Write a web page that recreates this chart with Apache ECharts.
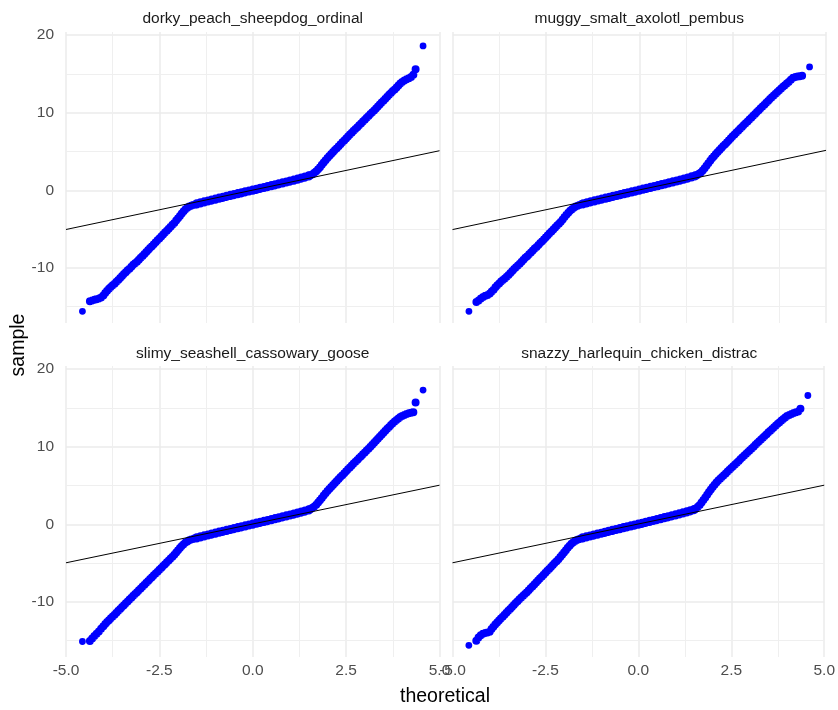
<!DOCTYPE html>
<html>
<head>
<meta charset="utf-8">
<script src="https://cdn.jsdelivr.net/npm/echarts@6/dist/echarts.min.js"></script>
<style>
  html, body { margin: 0; padding: 0; background: #ffffff; }
  #chart { width: 838px; height: 710px; }
</style>
</head>
<body>
<div id="chart"></div>
<script>
// ---------- DATA ----------
const panelNames = [
  'dorky_peach_sheepdog_ordinal',
  'muggy_smalt_axolotl_pembus',
  'slimy_seashell_cassowary_goose',
  'snazzy_harlequin_chicken_distrac'
];

const theoretical = [
  -4.56, -4.36, -4.3, -4.24, -4.18, -4.12, -4.06, -4.0,
  -3.95, -3.9, -3.85, -3.8, -3.75, -3.7, -3.65, -3.6, -3.55, -3.5,
  -3.45, -3.4, -3.35, -3.3, -3.25, -3.2, -3.15, -3.1, -3.05, -3.0,
  -2.95, -2.9, -2.85, -2.8, -2.75, -2.7, -2.65, -2.6, -2.55, -2.5,
  -2.45, -2.4, -2.35, -2.3, -2.25, -2.2, -2.15, -2.1, -2.05, -2.0,
  -1.95, -1.9, -1.85, -1.8, -1.75, -1.7, -1.65, -1.6, -1.55,
  -1.5, -1.4, -1.3, -1.2, -1.1, -1.0, -0.9, -0.8, -0.7, -0.6, -0.5,
  -0.4, -0.3, -0.2, -0.1, 0.0, 0.1, 0.2, 0.3, 0.4, 0.5, 0.6, 0.7,
  0.8, 0.9, 1.0, 1.1, 1.2, 1.3, 1.4, 1.5,
  1.55, 1.6, 1.65, 1.7, 1.75, 1.8, 1.85, 1.9, 1.95, 2.0,
  2.05, 2.1, 2.15, 2.2, 2.25, 2.3, 2.35, 2.4, 2.45, 2.5,
  2.55, 2.6, 2.65, 2.7, 2.75, 2.8, 2.85, 2.9, 2.95, 3.0,
  3.05, 3.1, 3.15, 3.2, 3.25, 3.3, 3.35, 3.4, 3.45, 3.5,
  3.55, 3.6, 3.65, 3.7, 3.75, 3.8, 3.85, 3.9, 3.95,
  4.0, 4.06, 4.12, 4.18, 4.24, 4.3, 4.36, 4.56
];

const sampleDorky = [
  -15.6, -14.3, -14.2, -14.1, -14.05, -13.95, -13.8, -13.55,
  -13.25, -12.95, -12.7, -12.45, -12.25, -12.05, -11.8, -11.55, -11.3, -11.05,
  -10.8, -10.55, -10.3, -10.1, -9.85, -9.6, -9.4, -9.2, -8.95, -8.7,
  -8.45, -8.2, -7.95, -7.7, -7.45, -7.2, -6.95, -6.7, -6.45, -6.2,
  -5.95, -5.7, -5.45, -5.2, -4.95, -4.7, -4.45, -4.2, -3.9, -3.6,
  -3.3, -3.0, -2.7, -2.45, -2.25, -2.1, -2.0, -1.9, -1.82,
  -1.75, -1.62, -1.5, -1.38, -1.26, -1.14, -1.02, -0.9, -0.78, -0.66, -0.55,
  -0.43, -0.32, -0.2, -0.09, 0.02, 0.13, 0.25, 0.36, 0.48, 0.6, 0.71, 0.83,
  0.95, 1.07, 1.19, 1.31, 1.44, 1.57, 1.7, 1.85,
  1.95, 2.08, 2.25, 2.45, 2.7, 2.98, 3.28, 3.58, 3.88, 4.15,
  4.42, 4.68, 4.93, 5.18, 5.43, 5.68, 5.93, 6.18, 6.43, 6.68,
  6.93, 7.18, 7.42, 7.66, 7.9, 8.14, 8.38, 8.62, 8.86, 9.1,
  9.34, 9.58, 9.82, 10.06, 10.3, 10.55, 10.8, 11.05, 11.3, 11.55,
  11.8, 12.05, 12.3, 12.55, 12.8, 13.0, 13.25, 13.5, 13.75,
  13.95, 14.15, 14.3, 14.45, 14.6, 14.9, 15.6, 18.6
];

const sampleMuggy = [
  -15.6, -14.4, -14.2, -13.95, -13.75, -13.6, -13.5, -13.3,
  -13.05, -12.8, -12.5, -12.25, -12.0, -11.75, -11.55, -11.35, -11.15, -10.9,
  -10.65, -10.4, -10.15, -9.9, -9.7, -9.45, -9.2, -8.95, -8.7, -8.5,
  -8.25, -8.0, -7.75, -7.5, -7.3, -7.05, -6.8, -6.55, -6.3, -6.05,
  -5.8, -5.55, -5.3, -5.05, -4.8, -4.55, -4.3, -4.05, -3.75, -3.45,
  -3.15, -2.9, -2.65, -2.45, -2.25, -2.1, -1.98, -1.88, -1.8,
  -1.74, -1.61, -1.49, -1.37, -1.25, -1.13, -1.01, -0.9, -0.78, -0.67, -0.55,
  -0.44, -0.32, -0.21, -0.1, 0.02, 0.14, 0.25, 0.37, 0.49, 0.6, 0.72, 0.84,
  0.96, 1.08, 1.2, 1.32, 1.45, 1.58, 1.72, 1.86,
  1.98, 2.12, 2.3, 2.55, 2.85, 3.18, 3.5, 3.82, 4.12, 4.4,
  4.68, 4.94, 5.2, 5.45, 5.7, 5.95, 6.2, 6.45, 6.7, 6.95,
  7.2, 7.44, 7.68, 7.92, 8.16, 8.4, 8.64, 8.88, 9.12, 9.36,
  9.6, 9.84, 10.08, 10.32, 10.56, 10.8, 11.04, 11.28, 11.52, 11.76,
  12.0, 12.22, 12.45, 12.68, 12.9, 13.12, 13.35, 13.55, 13.75,
  13.95, 14.25, 14.5, 14.6, 14.65, 14.7, 14.75, 15.9
];

const sampleSlimy = [
  -15.1, -15.05, -14.7, -14.4, -14.1, -13.8, -13.45, -13.15,
  -12.85, -12.6, -12.35, -12.1, -11.88, -11.65, -11.4, -11.15, -10.9, -10.65,
  -10.42, -10.18, -9.94, -9.7, -9.46, -9.22, -8.98, -8.74, -8.5, -8.26,
  -8.02, -7.78, -7.54, -7.3, -7.06, -6.82, -6.58, -6.34, -6.1, -5.86,
  -5.62, -5.38, -5.14, -4.9, -4.66, -4.42, -4.18, -3.92, -3.64, -3.35,
  -3.06, -2.8, -2.56, -2.36, -2.2, -2.07, -1.97, -1.88, -1.81,
  -1.75, -1.62, -1.5, -1.38, -1.26, -1.14, -1.02, -0.91, -0.79, -0.67, -0.55,
  -0.44, -0.32, -0.21, -0.09, 0.02, 0.14, 0.25, 0.37, 0.48, 0.6, 0.72, 0.84,
  0.96, 1.08, 1.2, 1.32, 1.45, 1.58, 1.71, 1.85,
  1.97, 2.12, 2.3, 2.52, 2.8, 3.1, 3.4, 3.7, 4.0, 4.28,
  4.55, 4.82, 5.08, 5.33, 5.58, 5.83, 6.08, 6.33, 6.58, 6.83,
  7.08, 7.33, 7.58, 7.82, 8.06, 8.3, 8.54, 8.78, 9.02, 9.26,
  9.5, 9.75, 10.0, 10.25, 10.5, 10.76, 11.02, 11.28, 11.54, 11.8,
  12.05, 12.3, 12.55, 12.8, 13.02, 13.25, 13.45, 13.65, 13.82,
  13.95, 14.1, 14.2, 14.3, 14.38, 14.45, 15.7, 17.3
];

const sampleSnazzy = [
  -15.6, -15.0, -14.6, -14.3, -14.1, -14.0, -13.95, -13.85,
  -13.5, -13.2, -12.9, -12.65, -12.4, -12.15, -11.9, -11.65, -11.4, -11.15,
  -10.9, -10.65, -10.4, -10.15, -9.9, -9.67, -9.44, -9.21, -8.98, -8.75,
  -8.5, -8.25, -8.0, -7.75, -7.5, -7.25, -7.0, -6.75, -6.5, -6.25,
  -6.0, -5.75, -5.5, -5.25, -5.0, -4.75, -4.5, -4.22, -3.93, -3.63,
  -3.33, -3.03, -2.75, -2.5, -2.3, -2.14, -2.02, -1.92, -1.84,
  -1.76, -1.63, -1.51, -1.39, -1.27, -1.15, -1.03, -0.91, -0.79, -0.67, -0.56,
  -0.44, -0.33, -0.21, -0.1, 0.02, 0.13, 0.25, 0.37, 0.49, 0.61, 0.73, 0.85,
  0.97, 1.09, 1.21, 1.34, 1.47, 1.6, 1.74, 1.9,
  2.05, 2.25, 2.5, 2.8, 3.12, 3.45, 3.8, 4.15, 4.48, 4.8,
  5.1, 5.38, 5.63, 5.87, 6.1, 6.33, 6.56, 6.79, 7.02, 7.25,
  7.48, 7.71, 7.94, 8.17, 8.4, 8.63, 8.86, 9.09, 9.32, 9.55,
  9.78, 10.01, 10.24, 10.47, 10.7, 10.93, 11.16, 11.39, 11.62, 11.85,
  12.07, 12.29, 12.51, 12.73, 12.95, 13.16, 13.37, 13.57, 13.77,
  13.95, 14.1, 14.2, 14.35, 14.45, 14.55, 14.9, 16.6
];

const samples = [sampleDorky, sampleMuggy, sampleSlimy, sampleSnazzy];

// reference (qq) line: y at theoretical = -5 and y at theoretical = 5
const refLineX = [-5, 5];
const refLineY = [
  [-5.05, 5.1],
  [-5.06, 5.15],
  [-4.96, 5.04],
  [-4.96, 5.04]
];

const xRange = [-5, 5];
const yRange = [-17.1, 20.4];
const xTicks = [-5, -2.5, 0, 2.5, 5];
const xMinorTicks = [-3.75, -1.25, 1.25, 3.75];
const yTicks = [-10, 0, 10, 20];
const yMinorTicks = [-15, -5, 5, 15];

// ---------- LAYOUT / STYLE ----------
const FONT = '"Liberation Sans", Arial, sans-serif';
const gridLeft = [66, 452.5];
const gridTop = [32, 366];
const gridW = 373.5;
const gridH = 291;
// point sizes: the dense middle band is drawn over a thicker stack of points
const denseBand = [-1.52, 1.52];
const tailCut = 4.4;

const chart = echarts.init(document.getElementById('chart'), null, { renderer: 'canvas' });

const grids = [], xAxes = [], yAxes = [], series = [], graphics = [];

function pointSeries(i, pts, size, z) {
  return {
    type: 'scatter', xAxisIndex: i, yAxisIndex: i, z: z,
    symbol: 'circle', symbolSize: size,
    large: true, largeThreshold: 1,
    itemStyle: { color: '#0000FF', opacity: 1, borderWidth: 0 },
    animation: false, silent: true,
    data: pts
  };
}

panelNames.forEach((name, i) => {
  const col = i % 2, row = Math.floor(i / 2);
  grids.push({ left: gridLeft[col], top: gridTop[row], width: gridW, height: gridH, containLabel: false });

  xAxes.push({
    type: 'value', gridIndex: i, min: xRange[0], max: xRange[1], interval: 2.5,
    axisLine: { show: false }, axisTick: { show: false }, splitLine: { show: false },
    axisLabel: {
      show: row === 1, color: '#4D4D4D', fontSize: 15.5, fontFamily: FONT, margin: 6,
      showMinLabel: true, showMaxLabel: true,
      formatter: v => v.toFixed(1)
    }
  });

  yAxes.push({
    type: 'value', gridIndex: i, min: yRange[0], max: yRange[1],
    axisLine: { show: false }, axisTick: { show: false }, splitLine: { show: false },
    axisLabel: {
      show: col === 0, color: '#4D4D4D', fontSize: 15.5, fontFamily: FONT, margin: 12,
      customValues: yTicks,
      formatter: v => String(v)
    }
  });

  // grid lines (ggplot theme_minimal style)
  const majorLines = [
    ...xTicks.map(v => ({ xAxis: v })),
    ...yTicks.map(v => ({ yAxis: v }))
  ];
  const minorLines = [
    ...xMinorTicks.map(v => ({ xAxis: v })),
    ...yMinorTicks.map(v => ({ yAxis: v }))
  ];
  series.push({
    type: 'line', xAxisIndex: i, yAxisIndex: i, data: [], silent: true, z: 0,
    markLine: {
      silent: true, symbol: ['none', 'none'], animation: false, z: 0,
      label: { show: false },
      lineStyle: { color: '#EBEBEB', width: 1.5, type: 'solid' },
      emphasis: { disabled: true },
      data: majorLines
    }
  });
  series.push({
    type: 'line', xAxisIndex: i, yAxisIndex: i, data: [], silent: true, z: 0,
    markLine: {
      silent: true, symbol: ['none', 'none'], animation: false, z: 0,
      label: { show: false },
      lineStyle: { color: '#EFEFEF', width: 1, type: 'solid' },
      emphasis: { disabled: true },
      data: minorLines
    }
  });

  // points
  const pts = theoretical.map((t, k) => [t, samples[i][k]]);
  const tailPts = pts.filter(p => Math.abs(p[0]) > tailCut);
  const bandPts = pts.filter(p => Math.abs(p[0]) <= tailCut && (p[0] < denseBand[0] || p[0] > denseBand[1]));
  const densePts = pts.filter(p => p[0] >= denseBand[0] && p[0] <= denseBand[1]);
  series.push(pointSeries(i, tailPts, 6.8, 5));
  series.push(pointSeries(i, bandPts, 8, 5));
  series.push(pointSeries(i, densePts, 9.2, 5));

  // reference line
  series.push({
    type: 'line', xAxisIndex: i, yAxisIndex: i, z: 6,
    showSymbol: false, symbol: 'none', animation: false, silent: true,
    lineStyle: { color: '#000000', width: 1 },
    data: refLineX.map((x, k) => [x, refLineY[i][k]])
  });

  // strip text
  graphics.push({
    type: 'text', x: gridLeft[col] + gridW / 2, y: row === 0 ? 19 : 354,
    style: { text: name, fill: '#1A1A1A', font: '15.5px ' + FONT, textAlign: 'center', textVerticalAlign: 'middle' }
  });
});

graphics.push({
  type: 'text', x: 445, y: 697,
  style: { text: 'theoretical', fill: '#000000', font: '19.5px ' + FONT, textAlign: 'center', textVerticalAlign: 'middle' }
});
graphics.push({
  type: 'text', x: 19, y: 345, rotation: Math.PI / 2,
  style: { text: 'sample', fill: '#000000', font: '19.5px ' + FONT, textAlign: 'center', textVerticalAlign: 'middle' }
});

chart.setOption({
  backgroundColor: '#FFFFFF',
  animation: false,
  grid: grids,
  xAxis: xAxes,
  yAxis: yAxes,
  series: series,
  graphic: graphics
});
</script>
</body>
</html>
